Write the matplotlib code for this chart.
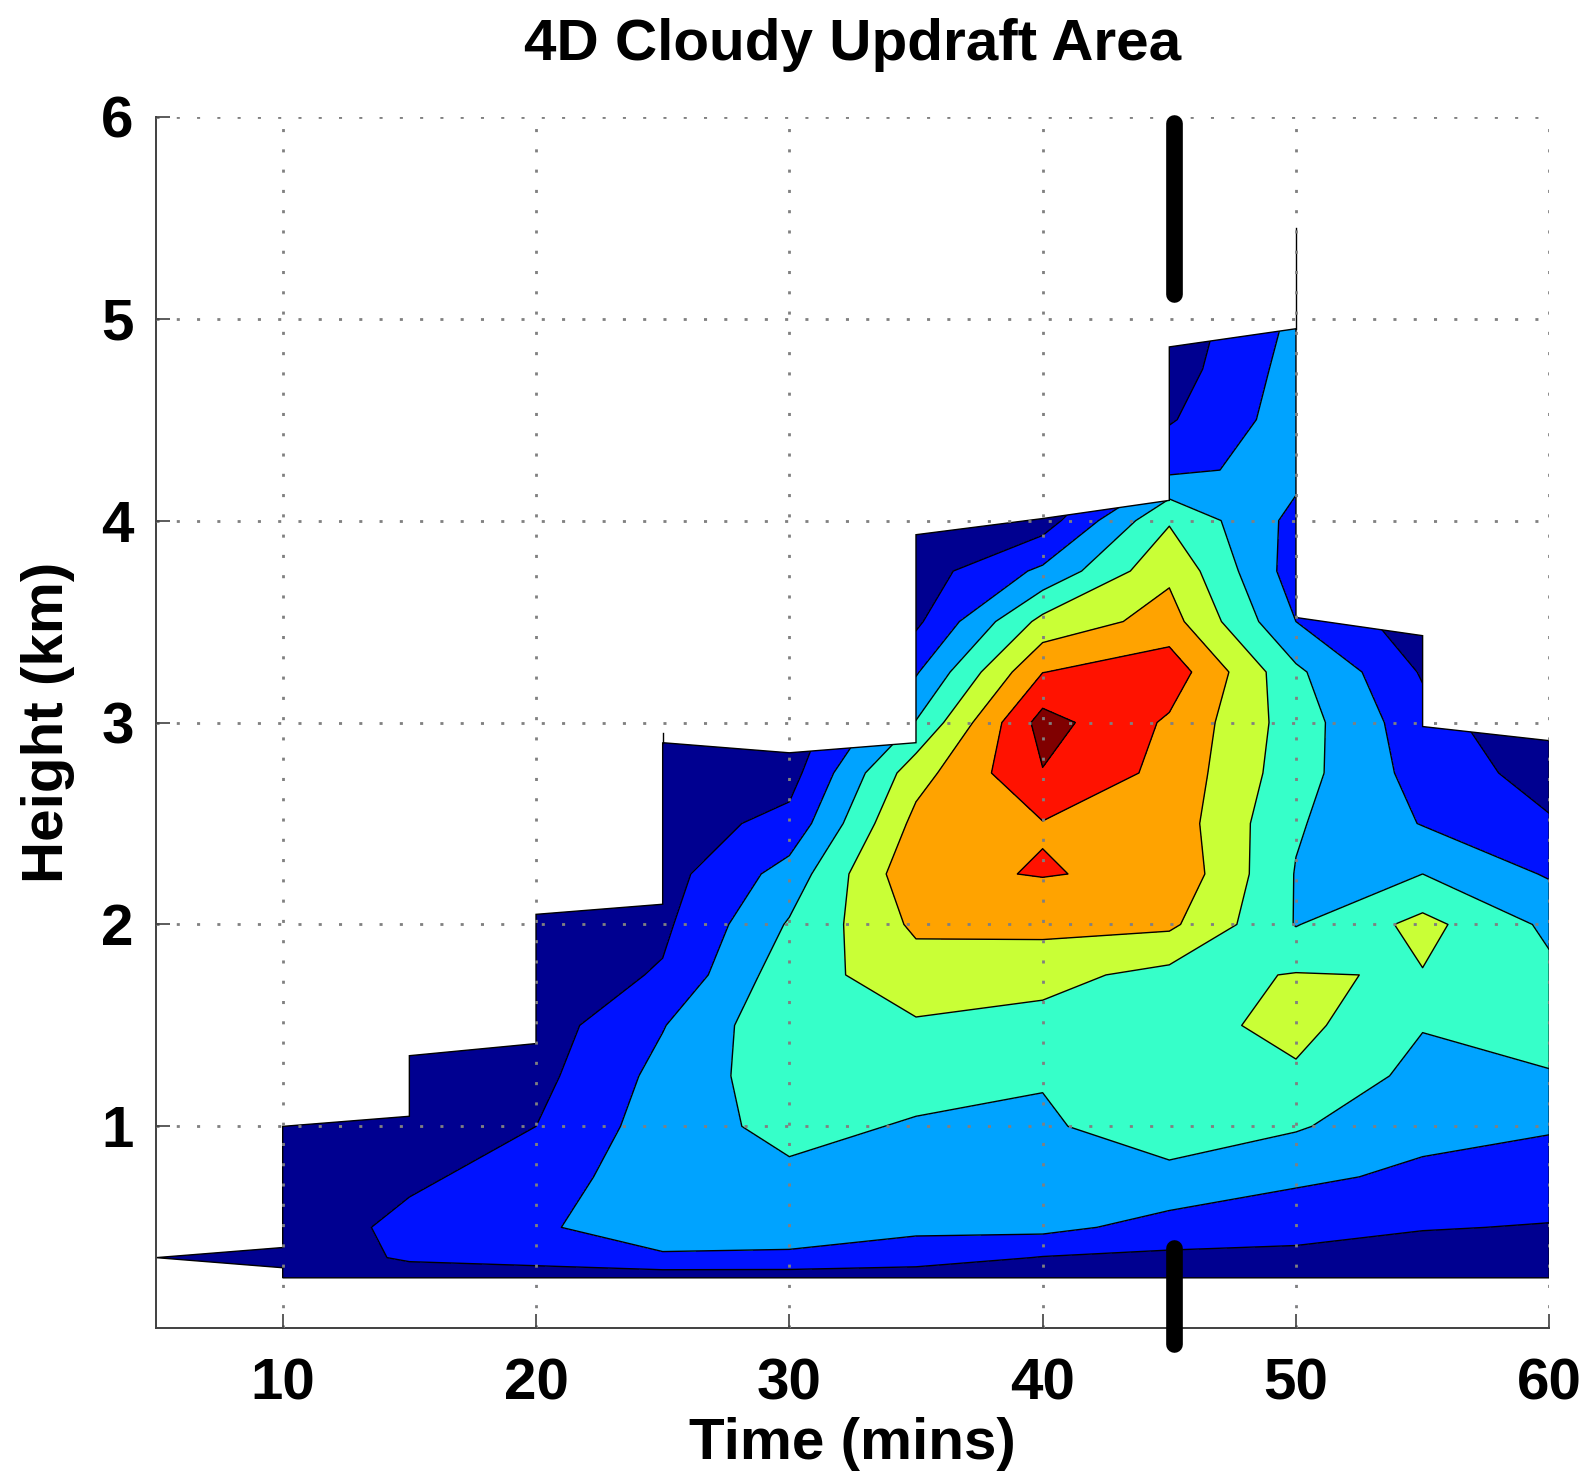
import numpy as np
import matplotlib.pyplot as plt
from matplotlib.path import Path
from matplotlib.patches import PathPatch

plt.rcParams['font.family'] = ['Liberation Sans', 'DejaVu Sans']
plt.rcParams['font.weight'] = 'bold'

# output times (mins) and model heights (km)
times = [5, 10, 15, 20, 25, 30, 35, 40, 45, 50, 55, 60]
heights = [0.25, 0.35, 0.5, 0.75, 1.0, 1.25, 1.5, 1.75, 2.0, 2.25, 2.5, 2.75,
           3.0, 3.25, 3.5, 3.75, 4.0, 4.25, 4.5, 4.75, 5.0, 5.25, 5.5]

# cloudy updraft area, one row per height, one column per time
area = [
    #  5    10    15    20    25    30    35    40    45    50    55    60
    [0.0, 0.3, 0.4, 0.4, 0.4, 0.4, 0.4, 0.4, 0.4, 0.4, 0.3, 0.3],       # 0.25
    [0.3, 0.3, 1.15, 1.4, 1.9, 1.85, 1.5, 0.95, 0.8, 0.8, 0.6, 0.5],    # 0.35
    [0.0, 0.3, 1.3, 1.9, 2.4, 2.4, 2.2, 2.3, 1.6, 1.3, 1.05, 0.95],     # 0.5
    [0.0, 0.3, 0.8, 1.5, 2.6, 2.8, 2.6, 2.6, 2.8, 2.2, 1.8, 1.5],       # 0.75
    [0.0, 0.3, 0.6, 1.0, 2.5, 3.3, 2.9, 2.9, 3.4, 3.1, 2.3, 2.1],       # 1.0
    [0.0, 0.0, 0.4, 0.7, 2.3, 3.6, 3.4, 3.05, 3.5, 3.85, 2.7, 2.95],    # 1.25
    [0.0, 0.0, 0.2, 0.5, 1.95, 3.8, 3.9, 3.7, 3.6, 4.3, 3.05, 3.3],     # 1.5
    [0.0, 0.0, 0.0, 0.4, 1.1, 3.6, 4.5, 4.3, 3.7, 4.05, 3.95, 3.2],     # 1.75
    [0.0, 0.0, 0.0, 0.3, 0.8, 3.1, 5.2, 5.3, 5.2, 2.95, 4.3, 2.8],      # 2.0
    [0.0, 0.0, 0.0, 0.0, 0.6, 2.4, 5.8, 6.05, 5.8, 2.95, 3.0, 1.9],     # 2.25
    [0.0, 0.0, 0.0, 0.0, 0.5, 1.3, 5.3, 5.95, 5.6, 3.1, 1.95, 1.1],     # 2.5
    [0.0, 0.0, 0.0, 0.0, 0.4, 0.6, 4.6, 6.95, 5.7, 3.4, 1.6, 0.6],      # 2.75
    [0.0, 0.0, 0.0, 0.0, 0.3, 0.3, 3.05, 7.4, 5.85, 3.5, 1.35, 0.3],    # 3.0
    [0.0, 0.0, 0.0, 0.0, 0.0, 0.0, 1.9, 5.98, 6.6, 3.2, 0.9, 0.0],      # 3.25
    [0.0, 0.0, 0.0, 0.0, 0.0, 0.0, 0.8, 4.3, 5.4, 2.0, 0.4, 0.0],       # 3.5
    [0.0, 0.0, 0.0, 0.0, 0.0, 0.0, 0.5, 2.2, 4.8, 1.5, 0.0, 0.0],       # 3.75
    [0.0, 0.0, 0.0, 0.0, 0.0, 0.0, 0.3, 0.5, 3.9, 1.7, 0.0, 0.0],       # 4.0
    [0.0, 0.0, 0.0, 0.0, 0.0, 0.0, 0.0, 0.0, 1.8, 2.3, 0.0, 0.0],       # 4.25
    [0.0, 0.0, 0.0, 0.0, 0.0, 0.0, 0.0, 0.0, 0.9, 2.5, 0.0, 0.0],       # 4.5
    [0.0, 0.0, 0.0, 0.0, 0.0, 0.0, 0.0, 0.0, 0.5, 2.4, 0.0, 0.0],       # 4.75
    [0.0, 0.0, 0.0, 0.0, 0.0, 0.0, 0.0, 0.0, 0.3, 2.2, 0.0, 0.0],       # 5.0
    [0.0, 0.0, 0.0, 0.0, 0.0, 0.0, 0.0, 0.0, 0.0, 1.2, 0.0, 0.0],       # 5.25
    [0.0, 0.0, 0.0, 0.0, 0.0, 0.0, 0.0, 0.0, 0.0, 0.5, 0.0, 0.0],       # 5.5
]

# vertical extent of cloudy updraft in each column (km) and model level spacing there
col_bottom = [0.35, 0.25, 0.25, 0.25, 0.25, 0.25, 0.25, 0.25, 0.25, 0.25, 0.25, 0.25]
col_top = [0.35, 1.0, 1.35, 2.05, 2.95, 2.85, 3.93, 4.01, 4.86, 5.45, 3.43, 2.91]
level_step = [0.05, 0.05, 0.06, 0.05, 0.05, 0.05, 0.08, 0.09, 0.09, 0.09, 0.09, 0.07]

levels = [0, 1, 2, 3, 4, 5, 6, 7, 8]
band_colors = ['#000090', '#0012ff', '#00a3ff', '#36ffc9',
               '#c9ff36', '#ffa300', '#ff1200', '#800000']

mark_time = 45.2
mark_top = [5.12, 5.97]
mark_bottom = [-0.08, 0.40]


def edge_heights(i):
    # top/bottom of the filled area at the left and right of interval i
    t0, t1 = col_top[i], col_top[i + 1]
    b0, b1 = col_bottom[i], col_bottom[i + 1]
    d0, d1 = level_step[i], level_step[i + 1]
    top_l = t0 if t0 <= t1 else t1 + d1
    top_r = t1 if t1 <= t0 else t0 + d0
    bot_l = b0 if b0 >= b1 else b1 - d1
    bot_r = b1 if b1 >= b0 else b0 - d0
    return top_l, top_r, bot_l, bot_r


fig = plt.figure(figsize=(15.89, 14.81), dpi=100)
ax = fig.add_axes([0.0982, 0.1031, 0.8768, 0.8181])

T, H = np.meshgrid(times, heights)
Z = np.array(area)

cf = ax.contourf(T, H, Z, levels=levels, colors=band_colors, zorder=1)
cl = ax.contour(T, H, Z, levels=levels[1:-1], colors='k', linewidths=1.0, zorder=2)

# outline of the cloudy region
n = len(times)
top_pts, bot_pts = [], []
for i in range(n - 1):
    tl, tr, bl, br = edge_heights(i)
    top_pts += [(times[i], tl), (times[i + 1], tr)]
    bot_pts += [(times[i], bl), (times[i + 1], br)]
verts = top_pts + bot_pts[::-1] + [top_pts[0]]
codes = [Path.MOVETO] + [Path.LINETO] * (len(verts) - 2) + [Path.CLOSEPOLY]
outline = PathPatch(Path(verts, codes), transform=ax.transData,
                    facecolor='none', edgecolor='k', linewidth=1.0, zorder=2)
ax.add_patch(outline)
cf.set_clip_path(outline)
cl.set_clip_path(outline)

# columns that reach above both neighbours leave only a line
for i in range(n):
    reach = []
    if i > 0:
        reach.append(edge_heights(i - 1)[1])
    if i < n - 1:
        reach.append(edge_heights(i)[0])
    if col_top[i] > max(reach) + 1e-6:
        ax.plot([times[i], times[i]], [max(reach), col_top[i]],
                color='k', lw=1.0, zorder=2)

# markers at 45 mins
ax.plot([mark_time, mark_time], mark_top, color='k', lw=12,
        solid_capstyle='round', clip_on=False, zorder=5)
ax.plot([mark_time, mark_time], mark_bottom, color='k', lw=12,
        solid_capstyle='round', clip_on=False, zorder=5)

ax.set_xlim(5, 60)
ax.set_ylim(0, 6)
ax.set_xticks([10, 20, 30, 40, 50, 60])
ax.set_yticks([1, 2, 3, 4, 5, 6])
ax.spines['top'].set_visible(False)
ax.spines['right'].set_visible(False)
for s in ['left', 'bottom']:
    ax.spines[s].set_color('#404040')
    ax.spines[s].set_linewidth(1.4)
ax.tick_params(direction='in', length=10, width=1.2, color='#404040',
               labelsize=42)
ax.tick_params(axis='x', pad=21)
ax.tick_params(axis='y', pad=16)
ax.grid(True, linestyle=(0, (1.1, 6.2)), linewidth=2.0, color='#808080')
ax.set_axisbelow(False)

ax.set_title('4D Cloudy Updraft Area', fontsize=42, fontweight='bold', pad=41)
ax.set_xlabel('Time (mins)', fontsize=42, fontweight='bold')
ax.xaxis.set_label_coords(0.5, -0.0955)
ax.xaxis.label.set_va('center')
ax.set_ylabel('Height (km)', fontsize=42, fontweight='bold')
ax.yaxis.set_label_coords(-0.0775, 0.5)
ax.yaxis.label.set_va('center')
ax.yaxis.label.set_ha('center')

fig.savefig('out.png', dpi=100)
